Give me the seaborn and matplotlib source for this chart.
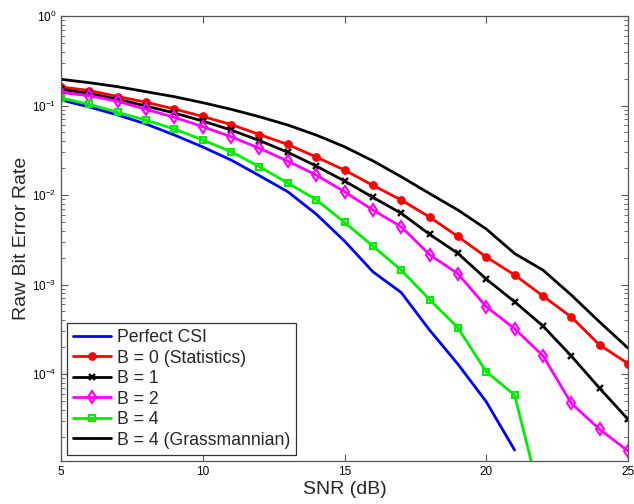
import matplotlib
matplotlib.use("Agg")
import matplotlib.pyplot as plt
import seaborn as sns
import numpy as np
import pandas as pd
from matplotlib.ticker import LogLocator, FixedLocator

sns.set_style("ticks")
plt.rcParams['font.family'] = ['Liberation Sans', 'DejaVu Sans']
plt.rcParams['mathtext.fontset'] = 'custom'
plt.rcParams['mathtext.rm'] = 'Liberation Sans'
plt.rcParams['mathtext.it'] = 'Liberation Sans:italic'

# ---- data ----
snr = list(range(5, 26))
perfect_csi = [0.1152, 0.0962, 0.0783, 0.0621, 0.0468, 0.0344, 0.0246, 0.01643,
               0.01088, 0.00613, 0.00306, 0.00139, 0.000814, 0.000310, 0.000129,
               4.90e-5, 1.415e-5]
b0_stat = [0.1609, 0.1471, 0.1260, 0.1086, 0.0914, 0.0754, 0.0613, 0.0474,
           0.0367, 0.0266, 0.0190, 0.01283, 0.00879, 0.00568, 0.00344, 0.00203,
           0.00128, 0.000744, 0.000433, 0.000211, 0.000131]
b1 = [0.1517, 0.1362, 0.1173, 0.0987, 0.0824, 0.0671, 0.0532, 0.0406, 0.0300,
      0.0211, 0.01434, 0.00943, 0.00625, 0.00364, 0.00223, 0.00115, 0.000642,
      0.000344, 0.000159, 6.92e-5, 3.12e-5]
b2 = [0.1397, 0.1287, 0.1114, 0.0907, 0.0738, 0.0580, 0.0448, 0.0332, 0.0239,
      0.01673, 0.01088, 0.00680, 0.00442, 0.00216, 0.00132, 0.000565, 0.000321,
      0.000160, 4.71e-5, 2.41e-5, 1.38e-5]
b4 = [0.1213, 0.1031, 0.0839, 0.0685, 0.0546, 0.0412, 0.0305, 0.0207, 0.01362,
      0.00888, 0.00495, 0.00269, 0.00145, 0.000680, 0.000329, 0.000106, 5.83e-5,
      3.2e-6]
b4_grass = [0.1963, 0.1798, 0.1622, 0.1426, 0.1254, 0.1075, 0.0907, 0.0749,
            0.0605, 0.0468, 0.0346, 0.0241, 0.0160, 0.01039, 0.00680, 0.00417,
            0.00222, 0.00145, 0.000763, 0.000381, 0.000195]
labels = ["Perfect CSI", "B = 0 (Statistics)", "B = 1", "B = 2", "B = 4",
          "B = 4 (Grassmannian)"]
xticks = [5, 10, 15, 20, 25]

fig = plt.figure(figsize=(6.34, 5.04), dpi=100)
ax = fig.add_axes([61/634, 1-461/504, (628-61)/634, (461-16)/504])

lw = 2.0
series = [
    (perfect_csi, labels[0], dict(color='#0000ff')),
    (b0_stat, labels[1], dict(color='#ff0000', marker='o', markersize=5.5,
                              markerfacecolor='#ff0000', markeredgecolor='#ff0000')),
    (b1, labels[2], dict(color='#000000', marker='x', markersize=5,
                         markeredgewidth=1.7, markeredgecolor='#000000')),
    (b2, labels[3], dict(color='#ff00ff', marker='d', markersize=6.5,
                         markerfacecolor='none', markeredgecolor='#ff00ff',
                         markeredgewidth=1.5)),
    (b4, labels[4], dict(color='#00ee00', marker='s', markersize=5,
                         markerfacecolor='none', markeredgecolor='#00ee00',
                         markeredgewidth=1.5)),
    (b4_grass, labels[5], dict(color='#000000')),
]
for vals, lab, kw in series:
    sns.lineplot(x=snr[:len(vals)], y=vals, ax=ax, label=lab, linewidth=lw,
                 **kw)

ax.set_yscale('log')
ax.set_xlim(5, 25)
ax.set_ylim(1.067e-5, 1.0)
ax.set_xticks(xticks)
ax.set_xticklabels([str(t) for t in xticks])
ax.yaxis.set_major_locator(FixedLocator([1e-4, 1e-3, 1e-2, 1e-1, 1e0]))
ax.yaxis.set_minor_locator(LogLocator(base=10, subs=np.arange(2, 10), numticks=20))

for s in ax.spines.values():
    s.set_color('#555555')
    s.set_linewidth(0.9)
ax.tick_params(which='both', direction='in', top=True, right=True,
               colors='#555555', labelcolor='black', labelsize=8.5)
ax.tick_params(which='major', length=5, width=0.8)
ax.tick_params(which='minor', length=3, width=0.6)

ax.set_xlabel("SNR (dB)", fontsize=14, labelpad=2)
ax.set_ylabel("Raw Bit Error Rate", fontsize=14, labelpad=1)

leg = ax.legend(loc='lower left', bbox_to_anchor=(0.0, 0.0),
                fontsize=12.7, frameon=True, fancybox=False,
                edgecolor='#333333', framealpha=1, borderaxespad=0.35,
                labelspacing=0.2, handlelength=2.15, handletextpad=0.3,
                borderpad=0.35)
leg.get_frame().set_linewidth(0.9)

fig.savefig("out.png", dpi=100)
